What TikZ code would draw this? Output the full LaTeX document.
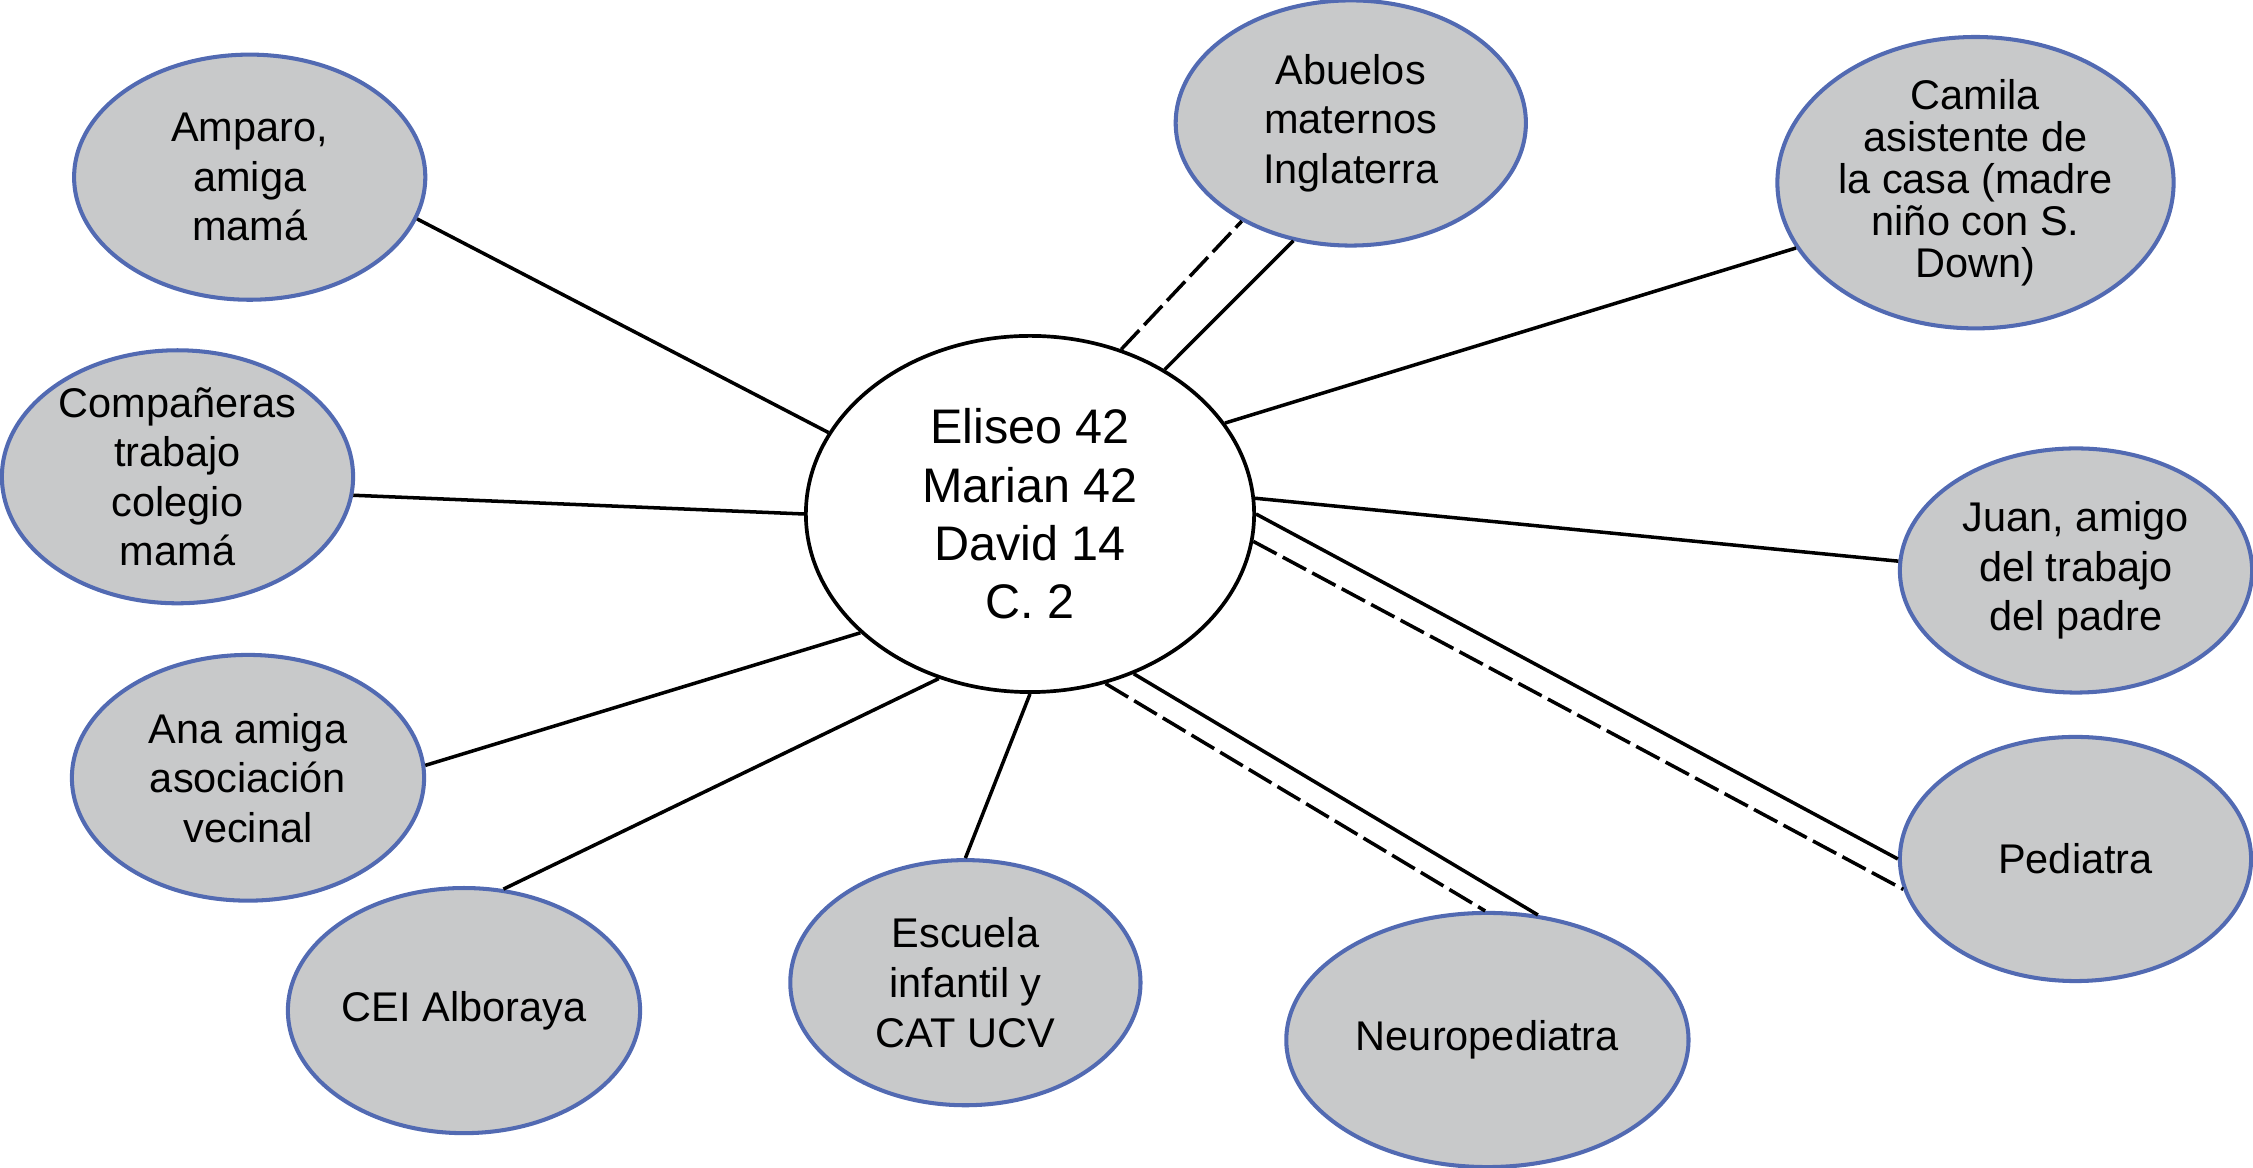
\documentclass[tikz,border=0pt]{standalone}
\usepackage{fontspec}
\setmainfont{Liberation Sans}
\usetikzlibrary{shapes.geometric}
\definecolor{nodegray}{RGB}{200,201,202}
\definecolor{nodeblue}{RGB}{82,106,178}
\tikzset{
  peer/.style={ellipse, draw=nodeblue, line width=1.15pt, fill=nodegray, inner sep=0pt, align=center, font=\fontsize{11.8}{14.1}\selectfont},
  core/.style={ellipse, draw=black, line width=1.05pt, fill=white, inner sep=0pt, align=center, font=\fontsize{13.8}{16.6}\selectfont},
  tie/.style={line width=1.0pt},
  tiedash/.style={line width=1.0pt, dash pattern=on 7.5pt off 2pt}
}
\begin{document}
\begin{tikzpicture}[x=0.01cm, y=-0.01cm]
\useasboundingbox (0,0) rectangle (2253,1168);
\node[core, minimum width=4.48cm, minimum height=3.56cm] (C) at (1030,514) {Eliseo 42\\Marian 42\\David 14\\C. 2};
\node[peer, minimum width=3.51cm, minimum height=2.45cm] (amparo) at (249.7,177.2) {Amparo,\\amiga\\mamá};
\node[peer, minimum width=3.51cm, minimum height=2.44cm] (comp) at (177.5,476.8) {Compañeras\\trabajo\\colegio\\mamá};
\node[peer, minimum width=3.52cm, minimum height=2.456cm] (ana) at (248,777.8) {Ana amiga\\asociación\\vecinal};
\node[peer, minimum width=3.52cm, minimum height=2.45cm] (cei) at (464,1010.6) {CEI Alboraya};
\node[peer, minimum width=3.50cm, minimum height=2.45cm] (esc) at (965.4,982.7) {Escuela\\infantil y\\CAT UCV};
\node[peer, minimum width=3.50cm, minimum height=2.45cm] (abu) at (1350.8,123) {Abuelos\\maternos\\Inglaterra};
\node[peer, minimum width=3.96cm, minimum height=2.45cm, font=\fontsize{11.8}{11.9}\selectfont] (cam) at (1975.5,182.7) {Camila\\asistente de\\la casa (madre\\niño con S.\\Down)};
\node[peer, minimum width=3.52cm, minimum height=2.44cm] (juan) at (2076,570.5) {Juan, amigo\\del trabajo\\del padre};
\node[peer, minimum width=3.51cm, minimum height=2.44cm] (ped) at (2075.5,859) {Pediatra};
\node[peer, minimum width=4.02cm, minimum height=2.54cm] (neuro) at (1487.4,1040) {Neuropediatra};

\draw[tie] (C.158.3) -- (amparo.-14.4);
\draw[tie] (C.180) -- (comp.-6.2);
\draw[tie] (C.215.1) -- (ana.4.5);
\draw[tie] (C.241.7) -- (cei.72.3);
\draw[tie] (C.270.5) -- (esc.90);
\draw[tie] (C.47.1) -- (abu.-116);
\draw[tiedash] (C.61.2) -- (abu.-138.6);
\draw[tie] (C.25) -- (cam.-160.2);
\draw[tie] (C.4.7) -- (juan.177.2);
\draw[tie] (C.-0.5) -- (ped.180);
\draw[tiedash] (C.-7.5) -- (ped.190.1);
\draw[tie] (C.-57.8) -- (neuro.68.1);
\draw[tiedash] (C.-66.4) -- (neuro.91.1);
\end{tikzpicture}
\end{document}
